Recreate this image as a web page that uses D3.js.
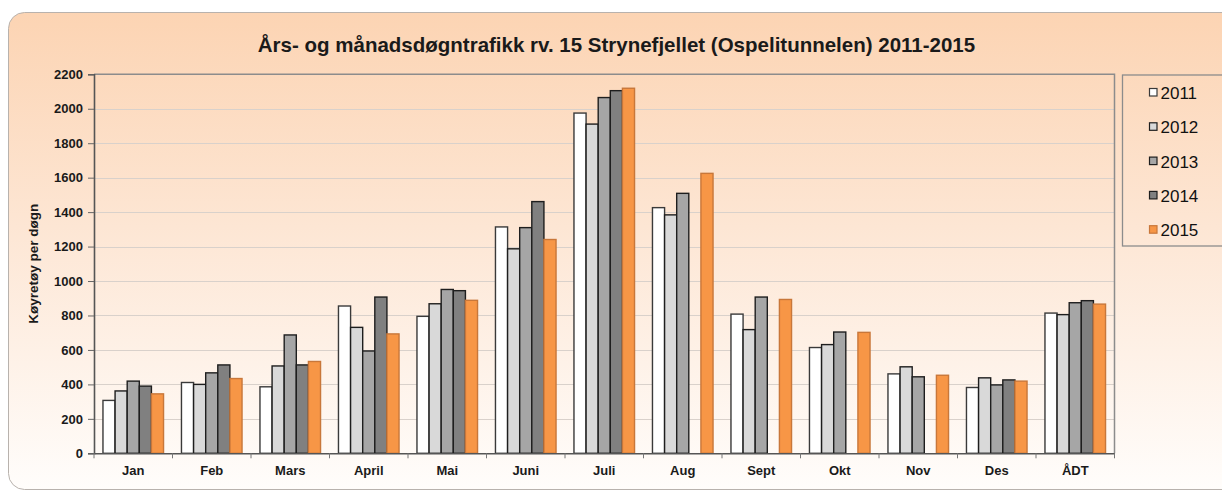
<!DOCTYPE html>
<html>
<head>
<meta charset="utf-8">
<script src="https://cdn.jsdelivr.net/npm/d3@7"></script>
<style>
  html, body { margin: 0; padding: 0; background: #ffffff; }
  svg { display: block; font-family: "Liberation Sans", Arial, sans-serif; }
</style>
</head>
<body>
<svg id="chart" width="1222" height="491"></svg>
<script>
// Månadar og årsdøgntrafikk (ÅDT)
const categories = ["Jan", "Feb", "Mars", "April", "Mai", "Juni", "Juli", "Aug", "Sept", "Okt", "Nov", "Des", "ÅDT"];
const years = ["2011", "2012", "2013", "2014", "2015"];

// Køyretøy per døgn, ein verdi per kategori (null = manglar data)
const v2011 = [307, 411, 386, 855, 795, 1314, 1975, 1426, 808, 614, 461, 382, 814];
const v2012 = [362, 400, 507, 731, 868, 1187, 1911, 1384, 718, 631, 502, 438, 805];
const v2013 = [419, 467, 687, 594, 951, 1310, 2065, 1509, 907, 704, 444, 397, 874];
const v2014 = [390, 513, 513, 907, 944, 1461, 2105, null, null, null, null, 426, 886];
const v2015 = [345, 434, 533, 693, 888, 1241, 2119, 1625, 893, 702, 453, 419, 866];

const yTicks = [0, 200, 400, 600, 800, 1000, 1200, 1400, 1600, 1800, 2000, 2200];

const seriesValues = [v2011, v2012, v2013, v2014, v2015];
const fills = ["#ffffff", "#d9d9d9", "#a6a6a6", "#808080", "#f79646"];
const strokes = ["#3a3a3a", "#1e1e1e", "#1e1e1e", "#1e1e1e", "#c8773a"];

const svg = d3.select("#chart");

// Bakgrunnspanel med mjuk fargeovergang
const defs = svg.append("defs");
const grad = defs.append("linearGradient")
  .attr("id", "bg").attr("x1", 0).attr("y1", 0).attr("x2", 0).attr("y2", 1);
grad.append("stop").attr("offset", "0%").attr("stop-color", "#fcd4b3");
grad.append("stop").attr("offset", "45%").attr("stop-color", "#fde6d4");
grad.append("stop").attr("offset", "100%").attr("stop-color", "#fffdfb");

svg.append("rect")
  .attr("x", 8.5).attr("y", 12.5)
  .attr("width", 1230).attr("height", 477)
  .attr("rx", 16).attr("ry", 16)
  .attr("fill", "url(#bg)")
  .attr("stroke", "#b8b2ad").attr("stroke-width", 1);

// Plotområde
const plotLeft = 94, plotRight = 1114.5, plotTop = 74.3, plotBottom = 453.3;

const x0 = d3.scaleBand().domain(categories).range([plotLeft, plotRight]).padding(0);
const x1 = d3.scaleBand().domain(years).range([0, x0.bandwidth()])
  .paddingInner(0).paddingOuter(0.74);
const y = d3.scaleLinear().domain([0, 2200]).range([plotBottom, plotTop]);

// Rutenett
svg.append("g").selectAll("line")
  .data(yTicks.filter(d => d > 0 && d < 2200))
  .join("line")
  .attr("x1", plotLeft).attr("x2", plotRight)
  .attr("y1", d => Math.round(y(d)) + 0.5).attr("y2", d => Math.round(y(d)) + 0.5)
  .attr("stroke", "#d9d1cb").attr("stroke-width", 1.2);

// Ramme øvst og til høgre
svg.append("path")
  .attr("d", `M${plotLeft},${plotTop}H${plotRight}V${plotBottom}`)
  .attr("fill", "none").attr("stroke", "#8c8c8c").attr("stroke-width", 1.5);

// Søyler
const groups = svg.append("g").selectAll("g")
  .data(years)
  .join("g");

groups.each(function(yr, si) {
  const vals = seriesValues[si];
  d3.select(this).selectAll("rect")
    .data(categories.map((c, i) => ({ c, v: vals[i] })).filter(d => d.v !== null))
    .join("rect")
    .attr("x", d => x0(d.c) + x1(yr))
    .attr("y", d => y(d.v))
    .attr("width", x1.bandwidth())
    .attr("height", d => plotBottom - y(d.v))
    .attr("fill", fills[si])
    .attr("stroke", strokes[si])
    .attr("stroke-width", 1.4);
});

// Y-akse
const yAxis = svg.append("g")
  .attr("transform", `translate(${plotLeft},0)`)
  .call(d3.axisLeft(y).tickValues(yTicks).tickSize(6).tickPadding(5).tickFormat(d3.format("d")));
yAxis.select(".domain").attr("stroke", "#555").attr("stroke-width", 1.6);
yAxis.selectAll(".tick line").attr("stroke", "#666");
yAxis.selectAll("text")
  .attr("font-size", 13).attr("font-weight", "bold").attr("fill", "#1a1a1a")
  .attr("font-family", "Liberation Sans, Arial, sans-serif");

// X-akse
const xAxis = svg.append("g")
  .attr("transform", `translate(0,${plotBottom})`)
  .call(d3.axisBottom(x0).tickSize(0).tickPadding(12).tickSizeOuter(0));
xAxis.select(".domain").attr("stroke", "#555").attr("stroke-width", 1.6);
xAxis.selectAll("text")
  .attr("font-size", 13).attr("font-weight", "bold").attr("fill", "#1a1a1a")
  .attr("font-family", "Liberation Sans, Arial, sans-serif");

// Skiljemerke mellom kategoriane
svg.append("g").selectAll("line")
  .data(d3.range(categories.length + 1))
  .join("line")
  .attr("x1", i => plotLeft + i * x0.step()).attr("x2", i => plotLeft + i * x0.step())
  .attr("y1", plotBottom).attr("y2", plotBottom + 5)
  .attr("stroke", "#777").attr("stroke-width", 1);

// Aksetittel
svg.append("text")
  .attr("transform", `translate(37.5,${(plotTop + plotBottom) / 2}) rotate(-90)`)
  .attr("text-anchor", "middle")
  .attr("font-size", 13.5).attr("font-weight", "bold").attr("fill", "#1a1a1a")
  .text("Køyretøy per døgn");

// Tittel
svg.append("text")
  .attr("x", 616.5).attr("y", 52)
  .attr("text-anchor", "middle")
  .attr("font-size", 20.5).attr("font-weight", "bold").attr("fill", "#1a1a1a")
  .text("Års- og månadsdøgntrafikk rv. 15 Strynefjellet (Ospelitunnelen) 2011-2015");

// Teiknforklaring
const lg = svg.append("g");
lg.append("rect")
  .attr("x", 1122.5).attr("y", 75)
  .attr("width", 120).attr("height", 171)
  .attr("fill", "none").attr("stroke", "#8c8c8c").attr("stroke-width", 1.3);
const items = lg.selectAll("g.item")
  .data(years)
  .join("g")
  .attr("class", "item")
  .attr("transform", (d, i) => `translate(1149,${92.5 + i * 34.3})`);
items.append("rect")
  .attr("x", 0.5).attr("y", -4).attr("width", 7.5).attr("height", 7.5)
  .attr("fill", (d, i) => fills[i])
  .attr("stroke", (d, i) => strokes[i]).attr("stroke-width", 1.2);
items.append("text")
  .attr("x", 11.5).attr("y", 6.5)
  .attr("font-size", 17).attr("fill", "#111")
  .text(d => d);
</script>
</body>
</html>
